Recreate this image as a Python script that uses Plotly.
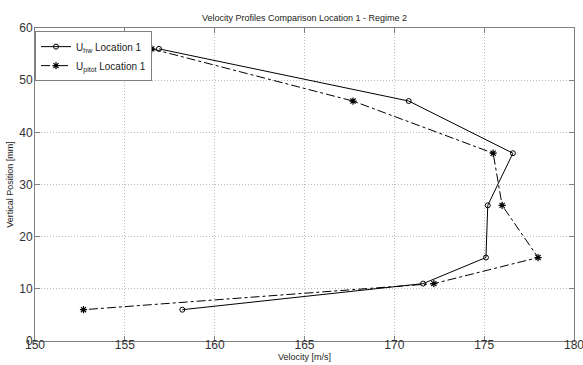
import plotly.graph_objects as go

y_pos = [56, 46, 36, 26, 16, 11, 6]
u_hw = [156.9, 170.8, 176.6, 175.2, 175.1, 171.6, 158.2]
u_pitot = [156.5, 167.7, 175.5, 176.0, 178.0, 172.2, 152.7]

x_ticks = [150, 155, 160, 165, 170, 175, 180]
y_ticks = [0, 10, 20, 30, 40, 50, 60]

fig = go.Figure()
fig.add_trace(go.Scatter(
    x=u_hw, y=y_pos, mode="lines+markers",
    name="U<sub>hw</sub> Location 1",
    line=dict(color="black", width=1),
    marker=dict(symbol="circle-open", size=5, color="black", line=dict(width=1)),
))
fig.add_trace(go.Scatter(
    x=u_pitot, y=y_pos, mode="lines+markers",
    name="U<sub>pitot</sub> Location 1",
    line=dict(color="black", width=1, dash="dashdot"),
    marker=dict(symbol="asterisk-open", size=6, color="black", line=dict(width=1.2)),
))

axis_common = dict(
    showline=True, linecolor="#808080", linewidth=1, mirror="ticks",
    ticks="inside", ticklen=5, tickcolor="#808080",
    showgrid=True, gridcolor="#bbbbbb", griddash="1px,2px", gridwidth=1,
    zeroline=False, automargin=False, ticklabeloverflow="allow",
    tickfont=dict(size=12, color="#333333", family="Liberation Sans"),
)

fig.update_layout(
    width=583, height=365,
    margin=dict(l=35, r=9, t=28, b=24),
    paper_bgcolor="white", plot_bgcolor="white",
    font=dict(family="Liberation Sans", color="#222222"),
    title=dict(text="Velocity Profiles Comparison Location 1 - Regime 2",
               x=0.5, xref="paper", y=1 - 18/365, yanchor="middle",
               font=dict(size=9)),
    xaxis=dict(range=[150, 180], tickvals=x_ticks, ticklabelstandoff=-7,
               title=dict(text="Velocity [m/s]", font=dict(size=9), standoff=0),
               **axis_common),
    yaxis=dict(range=[0, 60], tickvals=y_ticks, ticklabelstandoff=-1,
               title=dict(text="Vertical Position [mm]", font=dict(size=9), standoff=4),
               **axis_common),
    legend=dict(x=0, y=0.99, xanchor="left", yanchor="top",
                bgcolor="white", bordercolor="#808080", borderwidth=1,
                itemwidth=30,
                font=dict(size=10, color="#222222", family="Liberation Sans"),
                tracegroupgap=0),
    showlegend=True,
)

fig.write_html("out.html")
